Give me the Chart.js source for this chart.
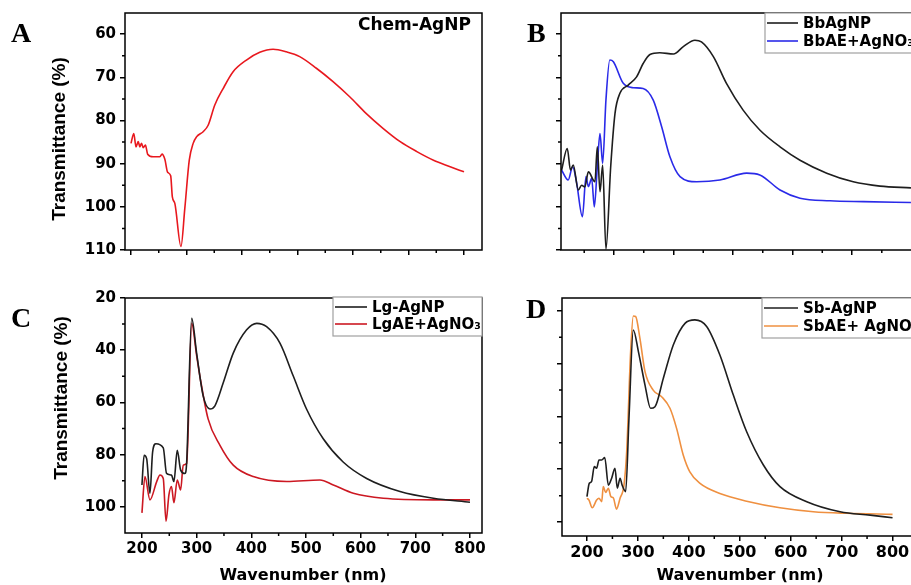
<!DOCTYPE html>
<html>
<head>
<meta charset="utf-8">
<script src="https://cdn.jsdelivr.net/npm/chart.js@4.4.1/dist/chart.umd.min.js"></script>
<style>
  html, body { margin: 0; padding: 0; background: #fff; overflow: hidden; }
  body { width: 911px; height: 585px; position: relative; }
  .panel { position: absolute; }
</style>
</head>
<body>
<div class="panel" style="left:0;top:0;width:490px;height:285px"><canvas id="chartA"></canvas></div>
<div class="panel" style="left:490px;top:0;width:450px;height:285px"><canvas id="chartB"></canvas></div>
<div class="panel" style="left:0;top:285px;width:490px;height:300px"><canvas id="chartC"></canvas></div>
<div class="panel" style="left:490px;top:285px;width:450px;height:300px"><canvas id="chartD"></canvas></div>
<script>
// tick labels
const xTicks = [200, 300, 400, 500, 600, 700, 800];
const yTicksAB = [60, 70, 80, 90, 100, 110];
const yTicksCD = [20, 40, 60, 80, 100];

// A - Chem-AgNP
const aNm = [200,205,209,213,216,219,222,226,230,240,252,256,261,266,271.5,274.5,279,290,297,305,312,318,330,339,351,366,384,408,432,456,480,504,534,564,594,624,654,685,715,745,775,800];
const aChem = [85.3,83.0,86.1,84.9,86.1,85.3,86.3,85.7,87.8,88.4,88.4,87.8,89.0,92.0,92.8,97.7,99.2,109.2,100.3,89.2,85.3,83.8,82.6,81.1,76.4,72.6,68.7,66.0,64.2,63.5,64.1,65.2,67.9,71.0,74.5,78.4,81.8,84.9,87.2,89.2,90.7,91.9];

// B - BbAgNP / BbAE+AgNO3
const bNmNp = [212,221.5,227,231.6,240,245.7,251,257,268,272,276.5,281,286.5,294.5,301.7,310,324,338,349,360.5,377,400,416.5,436,447,467,489,517,545,579,612.6,657.5,702,747,799];
const bNp = [91.5,86.5,91.5,90.3,96.1,95.0,95.4,91.9,94.2,86.1,96.5,90.3,109.8,90.7,78.4,73.7,71.8,69.9,66.8,64.7,64.3,64.6,62.9,61.4,61.8,65.2,71.4,77.6,82.2,86.1,89.2,92.2,94.2,95.2,95.6];
const bNmAe = [212,223,230.6,237,247,253,257,262.5,267,272,276.5,281,286.5,293,299,315.6,332.4,349,366,380,394,411,439,478,523,545,579,612.6,663,719,799];
const bAe = [91.5,93.8,90.7,94.2,102.3,93.0,95.3,93.4,100.0,90.7,83.0,89.9,75.3,66.0,66.4,71.4,72.4,72.6,75.3,81.4,88.4,93.0,94.2,93.8,92.2,92.6,96.1,98.0,98.6,98.8,99.0];

// C - Lg-AgNP / LgAE+AgNO3
const cNmNp = [200,204,208.6,214.6,219.5,225.6,239,245,254,258.5,264.6,270.8,278.7,281.7,291,300,312,324.4,333.5,348.7,367,391.5,410,428,452.4,476.8,501,531.6,568,611,672,733,800];
const cNp = [91.6,80.2,81.5,94.8,79.0,75.8,77.4,87.2,87.8,90.3,78.3,85.9,87.2,83.4,27.8,41.1,57.5,62.5,61.3,52.5,41.1,32.2,29.7,31.0,37.3,49.9,62.5,73.9,82.8,89.1,94.1,96.7,98.2];
const cNmAe = [200,205.5,214.6,227,233,239,244,249.4,254,258.5,264.6,270.8,275.5,281.7,291,300,306,321,342.7,367,403.6,465,525.6,550,586.6,641.5,733,800];
const cAe = [102.3,88.4,97.3,90.3,87.8,89.1,105.5,95.3,92.2,98.4,89.7,93.5,84.0,83.4,29.7,42,50,66.3,76.4,84,88.4,90.3,89.7,91.6,94.8,96.7,97.3,97.3];

// D - Sb-AgNP / SbAE+ AgNO3
const dNmNp = [200,204.6,209,214.4,219,223.6,229,235,242,248.5,255,259.6,265,269,276,282.5,291,301,314,325,333.6,350,369.5,392.5,412,435,461,487.4,513.6,546.4,579,631.6,697,756,800];
const dNp = [90.4,85.3,84.7,79.0,79.6,76.5,76.5,75.6,86.0,83.4,79.6,87.2,83.4,86.0,88.5,60.7,27.2,35.4,48.1,56.9,56.3,45.5,32.9,24.7,23.4,25.9,36.7,51.9,65.8,78.4,86.6,92.3,96.1,97.4,98.4];
const dNmAe = [200,204,210.4,219,223.6,229,232,236.7,242,247,251.7,258,265,272.7,278,285.8,291,295.6,304,314,330,346.6,363,376,389,402,422,461,513.6,579,644.6,710,800];
const dAe = [91.0,91.7,94.6,91.7,91.0,92.3,86.6,88.8,87.2,90.4,90.8,95.1,91.0,86.0,73.4,35.4,21.9,22.1,30.4,43.0,50.0,52.5,56.9,64.5,74.6,81.0,85.4,89.2,92.1,94.6,96.1,96.7,97.1];

const SANS = 'DejaVu Sans';
const yTitleFont = 'bold 19px "Liberation Sans"';
const letterFont = 'bold 28px "Liberation Serif"';

function zip(xs, ys) {
    return xs.map((x, i) => ({ x: x, y: ys[i] }));
}

// frame, minor ticks, texts and the boxed legend
const panelDecor = {
    id: 'panelDecor',
    afterDraw(chart, args, opts) {
        const ctx = chart.ctx;
        const a = chart.chartArea;
        ctx.save();
        ctx.strokeStyle = '#000';
        ctx.lineWidth = 1.5;
        ['x', 'y'].forEach(id => {
            const s = chart.scales[id];
            const vals = s.ticks.map(t => t.value);
            const step = vals[1] - vals[0];
            const minors = [vals[0] - step / 2].concat(vals.map(v => v + step / 2));
            ctx.beginPath();
            minors.forEach(v => {
                if (v <= s.min || v >= s.max) return;
                const p = s.getPixelForValue(v);
                if (id === 'x') { ctx.moveTo(p, a.bottom); ctx.lineTo(p, a.bottom + 3); }
                else { ctx.moveTo(a.left, p); ctx.lineTo(a.left - 3, p); }
            });
            ctx.stroke();
        });
        ctx.strokeRect(a.left, a.top, a.right - a.left, a.bottom - a.top);

        ctx.fillStyle = '#000';
        (opts.texts || []).forEach(t => {
            ctx.save();
            ctx.font = t.font;
            ctx.textAlign = t.align || 'left';
            ctx.textBaseline = t.baseline || 'alphabetic';
            ctx.translate(t.x, t.y);
            if (t.rotate) ctx.rotate(t.rotate);
            ctx.fillText(t.text, 0, 0);
            ctx.restore();
        });

        const lg = opts.legend;
        if (lg) {
            ctx.fillStyle = '#fff';
            ctx.fillRect(lg.x, lg.y, lg.w, lg.h);
            ctx.strokeStyle = '#a0a0a0';
            ctx.lineWidth = 1.2;
            ctx.strokeRect(lg.x, lg.y, lg.w, lg.h);
            ctx.font = 'bold 15px "' + SANS + '"';
            ctx.textBaseline = 'middle';
            ctx.textAlign = 'left';
            chart.data.datasets.forEach((ds, i) => {
                const y = lg.rows[i];
                ctx.strokeStyle = ds.borderColor;
                ctx.lineWidth = 1.6;
                ctx.beginPath();
                ctx.moveTo(lg.x1, y);
                ctx.lineTo(lg.x2, y);
                ctx.stroke();
                ctx.fillStyle = '#000';
                ctx.fillText(ds.label, lg.tx, y + 1);
            });
        }
        ctx.restore();
    }
};

function makePanel(id, cfg) {
    const tickFont = { family: SANS, weight: 'bold', size: cfg.tickSize || 15 };
    const grid = { drawOnChartArea: false, drawTicks: true, tickLength: 5, color: '#000', lineWidth: 1.5 };
    new Chart(document.getElementById(id), {
        type: 'line',
        data: {
            datasets: cfg.series.map(s => ({
                label: s.label,
                data: zip(s.nm, s.t),
                borderColor: s.color,
                borderWidth: 1.6,
                pointRadius: 0,
                fill: false,
                cubicInterpolationMode: 'monotone'
            }))
        },
        options: {
            responsive: true,
            maintainAspectRatio: false,
            animation: false,
            layout: { padding: cfg.padding },
            plugins: {
                legend: { display: false },
                tooltip: { enabled: false },
                panelDecor: cfg.decor
            },
            scales: {
                x: {
                    type: 'linear',
                    min: cfg.xMin,
                    max: cfg.xMax,
                    afterBuildTicks: s => { s.ticks = xTicks.filter(v => v >= s.min && v <= s.max).map(v => ({ value: v })); },
                    afterFit: s => { s.height = cfg.xHeight; },
                    grid: grid,
                    border: { display: false },
                    ticks: { display: cfg.xLabels, autoSkip: false, maxRotation: 0, padding: 2, color: '#000', font: tickFont }
                },
                y: {
                    type: 'linear',
                    reverse: true,
                    min: cfg.yMin,
                    max: cfg.yMax,
                    afterBuildTicks: s => { s.ticks = cfg.yTicks.map(v => ({ value: v })); },
                    afterFit: s => { s.width = cfg.yWidth; },
                    grid: grid,
                    border: { display: false },
                    ticks: { display: cfg.yLabels, autoSkip: false, padding: 4, color: '#000', font: tickFont }
                }
            }
        },
        plugins: [panelDecor]
    });
}

makePanel('chartA', {
    series: [{ label: 'Chem-AgNP', nm: aNm, t: aChem, color: '#e8181e' }],
    xMin: 189.2, xMax: 832.4, yMin: 55.1, yMax: 110, yTicks: yTicksAB,
    xLabels: false, yLabels: true,
    yWidth: 125, xHeight: 35,
    padding: { left: 0, top: 13, right: 8, bottom: 0 },
    decor: {
        texts: [
            { text: 'A', x: 11, y: 42, font: letterFont },
            { text: 'Chem-AgNP', x: 358, y: 30, font: 'bold 17px "' + SANS + '"' },
            { text: 'Transmittance (%)', x: 60, y: 139, font: yTitleFont, align: 'center', baseline: 'middle', rotate: -Math.PI / 2 }
        ]
    }
});

makePanel('chartB', {
    series: [
        { label: 'BbAgNP', nm: bNmNp, t: bNp, color: '#1e1e1e' },
        { label: 'BbAE+AgNO₃', nm: bNmAe, t: bAe, color: '#2a2ae8' }
    ],
    xMin: 211, xMax: 831, yMin: 55.1, yMax: 110, yTicks: yTicksAB,
    xLabels: false, yLabels: false,
    yWidth: 71, xHeight: 35,
    padding: { left: 0, top: 13, right: 10, bottom: 0 },
    decor: {
        texts: [{ text: 'B', x: 37, y: 42, font: letterFont }],
        legend: { x: 275, y: 13, w: 200, h: 40, rows: [23, 41], x1: 277, x2: 308, tx: 313 }
    }
});

makePanel('chartC', {
    series: [
        { label: 'Lg-AgNP', nm: cNmNp, t: cNp, color: '#1e1e1e' },
        { label: 'LgAE+AgNO₃', nm: cNmAe, t: cAe, color: '#cc1822' }
    ],
    xMin: 169, xMax: 822, yMin: 20, yMax: 110, yTicks: yTicksCD,
    xLabels: true, yLabels: true,
    yWidth: 125, xHeight: 52,
    padding: { left: 0, top: 11, right: 8, bottom: 0 },
    decor: {
        texts: [
            { text: 'C', x: 11, y: 42, font: letterFont },
            { text: 'Transmittance (%)', x: 62, y: 113, font: yTitleFont, align: 'center', baseline: 'middle', rotate: -Math.PI / 2 },
            { text: 'Wavenumber (nm)', x: 303, y: 291, font: 'bold 16px "' + SANS + '"', align: 'center', baseline: 'middle' }
        ],
        legend: { x: 333, y: 12, w: 149, h: 39, rows: [22, 39], x1: 335, x2: 367, tx: 372 }
    }
});

makePanel('chartD', {
    series: [
        { label: 'Sb-AgNP', nm: dNmNp, t: dNp, color: '#1e1e1e' },
        { label: 'SbAE+ AgNO₃', nm: dNmAe, t: dAe, color: '#ef9040' }
    ],
    xMin: 151, xMax: 850, yMin: 15.1, yMax: 105.3, yTicks: yTicksCD,
    xLabels: true, yLabels: false, tickSize: 16,
    yWidth: 72, xHeight: 49,
    padding: { left: 0, top: 13, right: 22, bottom: 0 },
    decor: {
        texts: [
            { text: 'D', x: 36, y: 33, font: letterFont },
            { text: 'Wavenumber (nm)', x: 250, y: 291, font: 'bold 16px "' + SANS + '"', align: 'center', baseline: 'middle' }
        ],
        legend: { x: 272, y: 13, w: 200, h: 40, rows: [23, 41], x1: 274, x2: 308, tx: 313 }
    }
});
</script>
</body>
</html>
